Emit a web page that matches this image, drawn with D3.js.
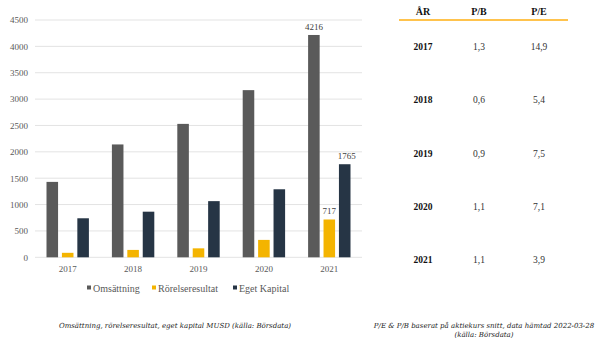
<!DOCTYPE html>
<html><head><meta charset="utf-8">
<script src="https://cdn.jsdelivr.net/npm/d3@7"></script>
<style>body{margin:0;background:#fff;}svg{display:block;}</style>
</head><body>
<svg id="c" width="600" height="342"></svg>
<script>
const years = ["2017","2018","2019","2020","2021"];
const seriesNames = ["Omsättning","Rörelseresultat","Eget Kapital"];
const omsattning = [1430, 2140, 2530, 3170, 4216];
const rorelseresultat = [85, 140, 170, 330, 717];
const egetKapital = [740, 865, 1065, 1290, 1765];
const yTicks = [0,500,1000,1500,2000,2500,3000,3500,4000,4500];
const colors = ["#5a5a5a","#f4b400","#263545"];
const tableYears = ["2017","2018","2019","2020","2021"];
const pb = ["1,3","0,6","0,9","1,1","1,1"];
const pe = ["14,9","5,4","7,5","7,1","3,9"];
const labelled = {"2021":[true,true,true]};

const svg = d3.select("#c");
const serif = "'Liberation Serif', 'DejaVu Serif', serif";
const x = d3.scaleBand().domain(years).range([35, 362]).paddingInner(0).paddingOuter(0);
const xs = d3.scaleBand().domain(seriesNames).range([11.5, 65.4-11.5]).paddingInner(0.25);
const y = d3.scaleLinear().domain([0, 4500]).range([257.3, 20]);

const grid = svg.append("g");
grid.selectAll("line").data(yTicks).join("line")
  .attr("x1", 35).attr("x2", 362)
  .attr("y1", d => y(d)).attr("y2", d => y(d))
  .attr("stroke", "#e3e3e3").attr("stroke-width", 1);

const yAxis = svg.append("g").attr("transform","translate(35,0)")
  .call(d3.axisLeft(y).tickValues(yTicks).tickFormat(d3.format("d")).tickSize(0).tickPadding(7));
yAxis.select(".domain").remove();
yAxis.selectAll("text").attr("font-family", serif).attr("font-size", 9).attr("fill", "#595959");

const xAxis = svg.append("g").attr("transform","translate(0,257.3)")
  .call(d3.axisBottom(x).tickSize(0).tickPadding(8));
xAxis.select(".domain").remove();
xAxis.selectAll("text").attr("font-family", serif).attr("font-size", 9).attr("fill", "#595959");

const data = [omsattning, rorelseresultat, egetKapital];
const rows = [];
years.forEach((yr, i) => seriesNames.forEach((s, j) => rows.push({yr, s, j, v: data[j][i]})));
svg.append("g").selectAll("rect").data(rows).join("rect")
  .attr("x", d => x(d.yr) + xs(d.s))
  .attr("width", xs.bandwidth())
  .attr("y", d => y(d.v))
  .attr("height", d => y(0) - y(d.v))
  .attr("fill", d => colors[d.j]);

svg.append("g").selectAll("text").data(rows.filter(d => labelled[d.yr]))
  .join("text")
  .attr("x", d => x(d.yr) + xs(d.s) + xs.bandwidth()/2 + (d.j===2?2:0))
  .attr("y", d => y(d.v) - 5)
  .attr("text-anchor","middle")
  .attr("font-family", serif).attr("font-size", 9).attr("fill", "#404040")
  .text(d => d.v);

// legend
const legX = [87, 152, 233];
const leg = svg.append("g");
seriesNames.forEach((s, j) => {
  leg.append("rect").attr("x", legX[j]).attr("y", 285.5).attr("width", 4).attr("height", 4).attr("fill", colors[j]);
  leg.append("text").attr("x", legX[j] + 6).attr("y", 291.5)
    .attr("font-family", serif).attr("font-size", 10).attr("fill", "#595959").text(s);
});

svg.append("text").attr("x", 175).attr("y", 328).attr("text-anchor","middle")
  .attr("font-family", "'DejaVu Serif', serif").attr("font-style","italic").attr("font-size", 7).attr("fill","#222")
  .text("Omsättning, rörelseresultat, eget kapital MUSD (källa: Börsdata)");

// table
const colX = [423, 479, 539];
const tbl = svg.append("g").attr("font-family", serif).attr("fill","#111");
["ÅR","P/B","P/E"].forEach((h, i) => {
  tbl.append("text").attr("x", colX[i]).attr("y", 15).attr("text-anchor","middle")
    .attr("font-weight","bold").attr("font-size", 10).text(h);
});
tbl.append("line").attr("x1", 399).attr("x2", 568).attr("y1", 20).attr("y2", 20)
  .attr("stroke", "#ffc34d").attr("stroke-width", 2);
const rowY = d3.scalePoint().domain(tableYears).range([50, 263]);
tableYears.forEach((yr, i) => {
  tbl.append("text").attr("x", colX[0]).attr("y", rowY(yr)).attr("text-anchor","middle")
    .attr("font-weight","bold").attr("font-size", 9.5).text(yr);
  tbl.append("text").attr("x", colX[1]).attr("y", rowY(yr)).attr("text-anchor","middle")
    .attr("font-size", 9.5).attr("fill","#333").text(pb[i]);
  tbl.append("text").attr("x", colX[2]).attr("y", rowY(yr)).attr("text-anchor","middle")
    .attr("font-size", 9.5).attr("fill","#333").text(pe[i]);
});

svg.append("text").attr("x", 484).attr("y", 328).attr("text-anchor","middle")
  .attr("font-family", "'DejaVu Serif', serif").attr("font-style","italic").attr("font-size", 7).attr("fill","#222")
  .text("P/E & P/B baserat på aktiekurs snitt, data hämtad 2022-03-28");
svg.append("text").attr("x", 484).attr("y", 337).attr("text-anchor","middle")
  .attr("font-family", "'DejaVu Serif', serif").attr("font-style","italic").attr("font-size", 7).attr("fill","#222")
  .text("(källa: Börsdata)");
</script>
</body></html>
